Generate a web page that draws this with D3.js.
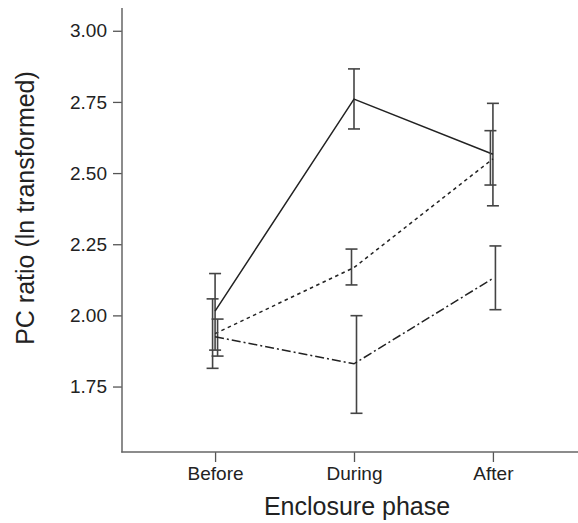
<!DOCTYPE html>
<html>
<head>
<meta charset="utf-8">
<script src="https://cdn.jsdelivr.net/npm/d3@7"></script>
<style>
  body { margin: 0; background: #fff; }
  text { font-family: "Liberation Sans", Arial, sans-serif; fill: #222; }
</style>
</head>
<body>
<script>
// phases on the x axis
const phases = ["Before", "During", "After"];
const yTicks = [1.75, 2.00, 2.25, 2.50, 2.75, 3.00];

// means and error bar limits, one array per group
const solidMean  = [2.015, 2.760, 2.566];
const solidLow   = [1.878, 2.655, 2.385];
const solidHigh  = [2.147, 2.866, 2.745];

const dashMean   = [1.936, 2.168, 2.550];
const dashLow    = [1.814, 2.107, 2.458];
const dashHigh   = [2.058, 2.233, 2.649];

const dotdashMean = [1.925, 1.830, 2.130];
const dotdashLow  = [1.857, 1.656, 2.020];
const dotdashHigh = [1.987, 1.999, 2.244];

const width = 578, height = 523;
const svg = d3.select("body").append("svg")
    .attr("width", width)
    .attr("height", height);

const x = d3.scalePoint()
    .domain(phases)
    .range([122, 586])
    .padding(0.67);

const y = d3.scaleLinear()
    .domain([1.52, 3.08])
    .range([452, 8]);

// axes
const yAxis = svg.append("g")
    .attr("transform", "translate(122,0)")
    .call(d3.axisLeft(y).tickValues(yTicks).tickFormat(d3.format(".2f")).tickSize(9).tickPadding(6));
yAxis.select(".domain").remove();
svg.append("line")
    .attr("x1", 122).attr("x2", 122)
    .attr("y1", 8).attr("y2", 452.5)
    .attr("stroke", "#666").attr("stroke-width", 1.5);

const xAxis = svg.append("g")
    .attr("transform", "translate(0,452)")
    .call(d3.axisBottom(x).tickSize(10).tickPadding(5));
xAxis.select(".domain").remove();
svg.append("line")
    .attr("x1", 121.25).attr("x2", 578)
    .attr("y1", 452).attr("y2", 452)
    .attr("stroke", "#666").attr("stroke-width", 1.5);

svg.selectAll(".tick line").attr("stroke", "#555").attr("stroke-width", 1.3);
yAxis.selectAll("text").style("font-size", "19px").attr("fill", "#222");
xAxis.selectAll("text").style("font-size", "19px").attr("fill", "#222");

// axis titles
svg.append("text")
    .attr("x", 357).attr("y", 515)
    .attr("text-anchor", "middle")
    .style("font-size", "25px")
    .text("Enclosure phase");

svg.append("text")
    .attr("transform", "translate(34,208) rotate(-90)")
    .attr("text-anchor", "middle")
    .style("font-size", "25px")
    .text("PC ratio (ln transformed)");

// groups
const groups = [
  { mean: solidMean, low: solidLow, high: solidHigh, dash: null, shift: 0 },
  { mean: dashMean, low: dashLow, high: dashHigh, dash: "3.5,3.5", shift: -2.5 },
  { mean: dotdashMean, low: dotdashLow, high: dotdashHigh, dash: "9,3,2,3", shift: 2.5 }
];

const line = d3.line()
    .x(d => x(d.phase))
    .y(d => y(d.value));

groups.forEach(g => {
  const pts = phases.map((p, i) => ({ phase: p, value: g.mean[i], low: g.low[i], high: g.high[i] }));

  const bars = svg.append("g").attr("stroke", "#444").attr("stroke-width", 1.6);
  pts.forEach(d => {
    const cx = x(d.phase) + g.shift;
    bars.append("line")
        .attr("x1", cx).attr("x2", cx)
        .attr("y1", y(d.high)).attr("y2", y(d.low));
    [d.high, d.low].forEach(v => {
      bars.append("line")
          .attr("x1", cx - 6).attr("x2", cx + 6)
          .attr("y1", y(v)).attr("y2", y(v));
    });
  });

  svg.append("path")
      .datum(pts)
      .attr("d", line)
      .attr("fill", "none")
      .attr("stroke", "#222")
      .attr("stroke-width", 1.5)
      .attr("stroke-dasharray", g.dash);
});
</script>
</body>
</html>
